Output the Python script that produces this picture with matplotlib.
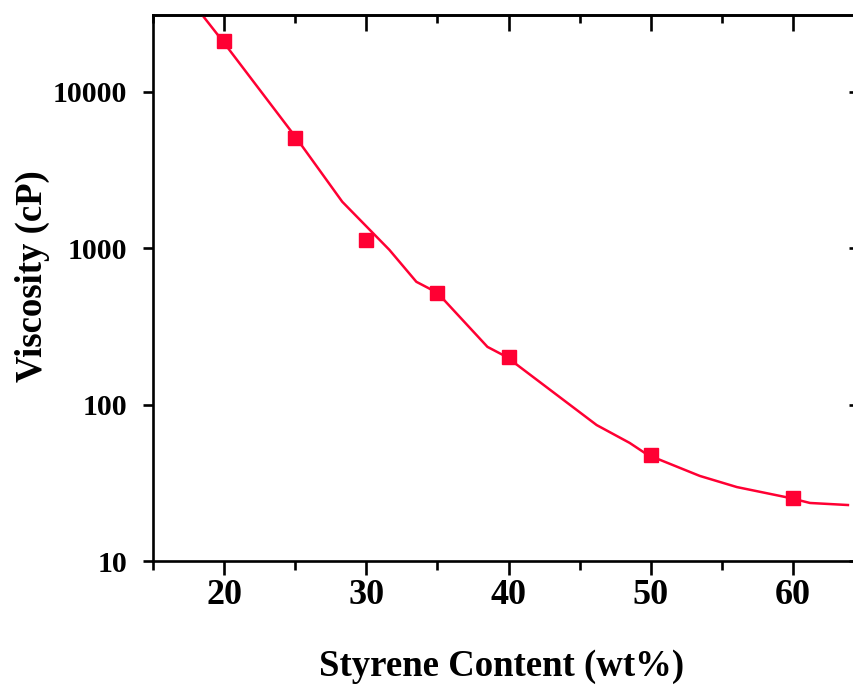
import numpy as np
import matplotlib.pyplot as plt
from matplotlib.ticker import NullLocator, FixedLocator

# measured points
styrene = [20, 25, 30, 35, 40, 50, 60]
viscosity = [21000, 5080, 1130, 519, 202, 47.7, 25.3]

# fitted curve
fit_x = [18.45, 19.93, 25.07, 28.31, 31.62, 33.52, 35.0, 38.52, 39.86,
         46.2, 48.52, 49.79, 53.45, 56.06, 59.79, 61.2, 63.87]
fit_y = [31100, 20940, 5080, 1982, 977, 610, 519, 234, 202,
         74, 56.9, 47.7, 35, 29.7, 25.3, 23.5, 22.8]

red = '#ff0033'
lw_axis = 1.9

plt.rcParams['font.family'] = 'Liberation Serif'
plt.rcParams['font.weight'] = 'bold'

fig = plt.figure(figsize=(8.54, 6.88), dpi=100)
ax = fig.add_axes([153/854, 127/688, 711/854, 546/688])

ax.plot(fit_x, fit_y, color=red, lw=1.8)
ax.plot(styrene, viscosity, ls='none', marker='s', ms=9.5, color=red)

ax.set_yscale('log')
ax.set_xlim(15, 65)
ax.set_ylim(10, 31000)
ax.set_xticks([20, 30, 40, 50, 60])
ax.xaxis.set_minor_locator(FixedLocator([15, 25, 35, 45, 55, 65]))
ax.set_yticks([10, 100, 1000, 10000])
ax.set_yticklabels(['10', '100', '1000', '10000'])
ax.yaxis.set_minor_locator(NullLocator())

for s in ax.spines.values():
    s.set_linewidth(lw_axis)

ax.tick_params(axis='x', which='major', direction='out', length=10, width=lw_axis,
               labelsize=26, pad=3)
ax.tick_params(axis='x', which='minor', direction='out', length=6.5, width=lw_axis)
ax.tick_params(axis='y', which='major', direction='out', length=7.5, width=lw_axis,
               labelsize=21.5, pad=11)

# top / right ticks point inwards
top = ax.secondary_xaxis('top')
top.set_xticks([20, 30, 40, 50, 60])
top.xaxis.set_minor_locator(FixedLocator([15, 25, 35, 45, 55, 65]))
top.tick_params(which='major', direction='in', length=11.5, width=lw_axis, labeltop=False)
top.tick_params(which='minor', direction='in', length=6, width=lw_axis)
top.spines['top'].set_linewidth(lw_axis)

right = ax.secondary_yaxis('right')
right.set_yticks([10, 100, 1000, 10000])
right.yaxis.set_minor_locator(NullLocator())
right.tick_params(which='major', direction='in', length=11, width=lw_axis, labelright=False)

ax.set_xlabel('Styrene Content (wt%)', fontsize=26.5, fontweight='bold')
ax.xaxis.set_label_coords(0.49, -0.194)
ax.xaxis.label.set_va('center')
ax.set_ylabel('Viscosity (cP)', fontsize=26.5, fontweight='bold')
ax.yaxis.set_label_coords(-0.169, 0.522)
ax.yaxis.label.set_va('center')

fig.savefig('out.png', dpi=100)
